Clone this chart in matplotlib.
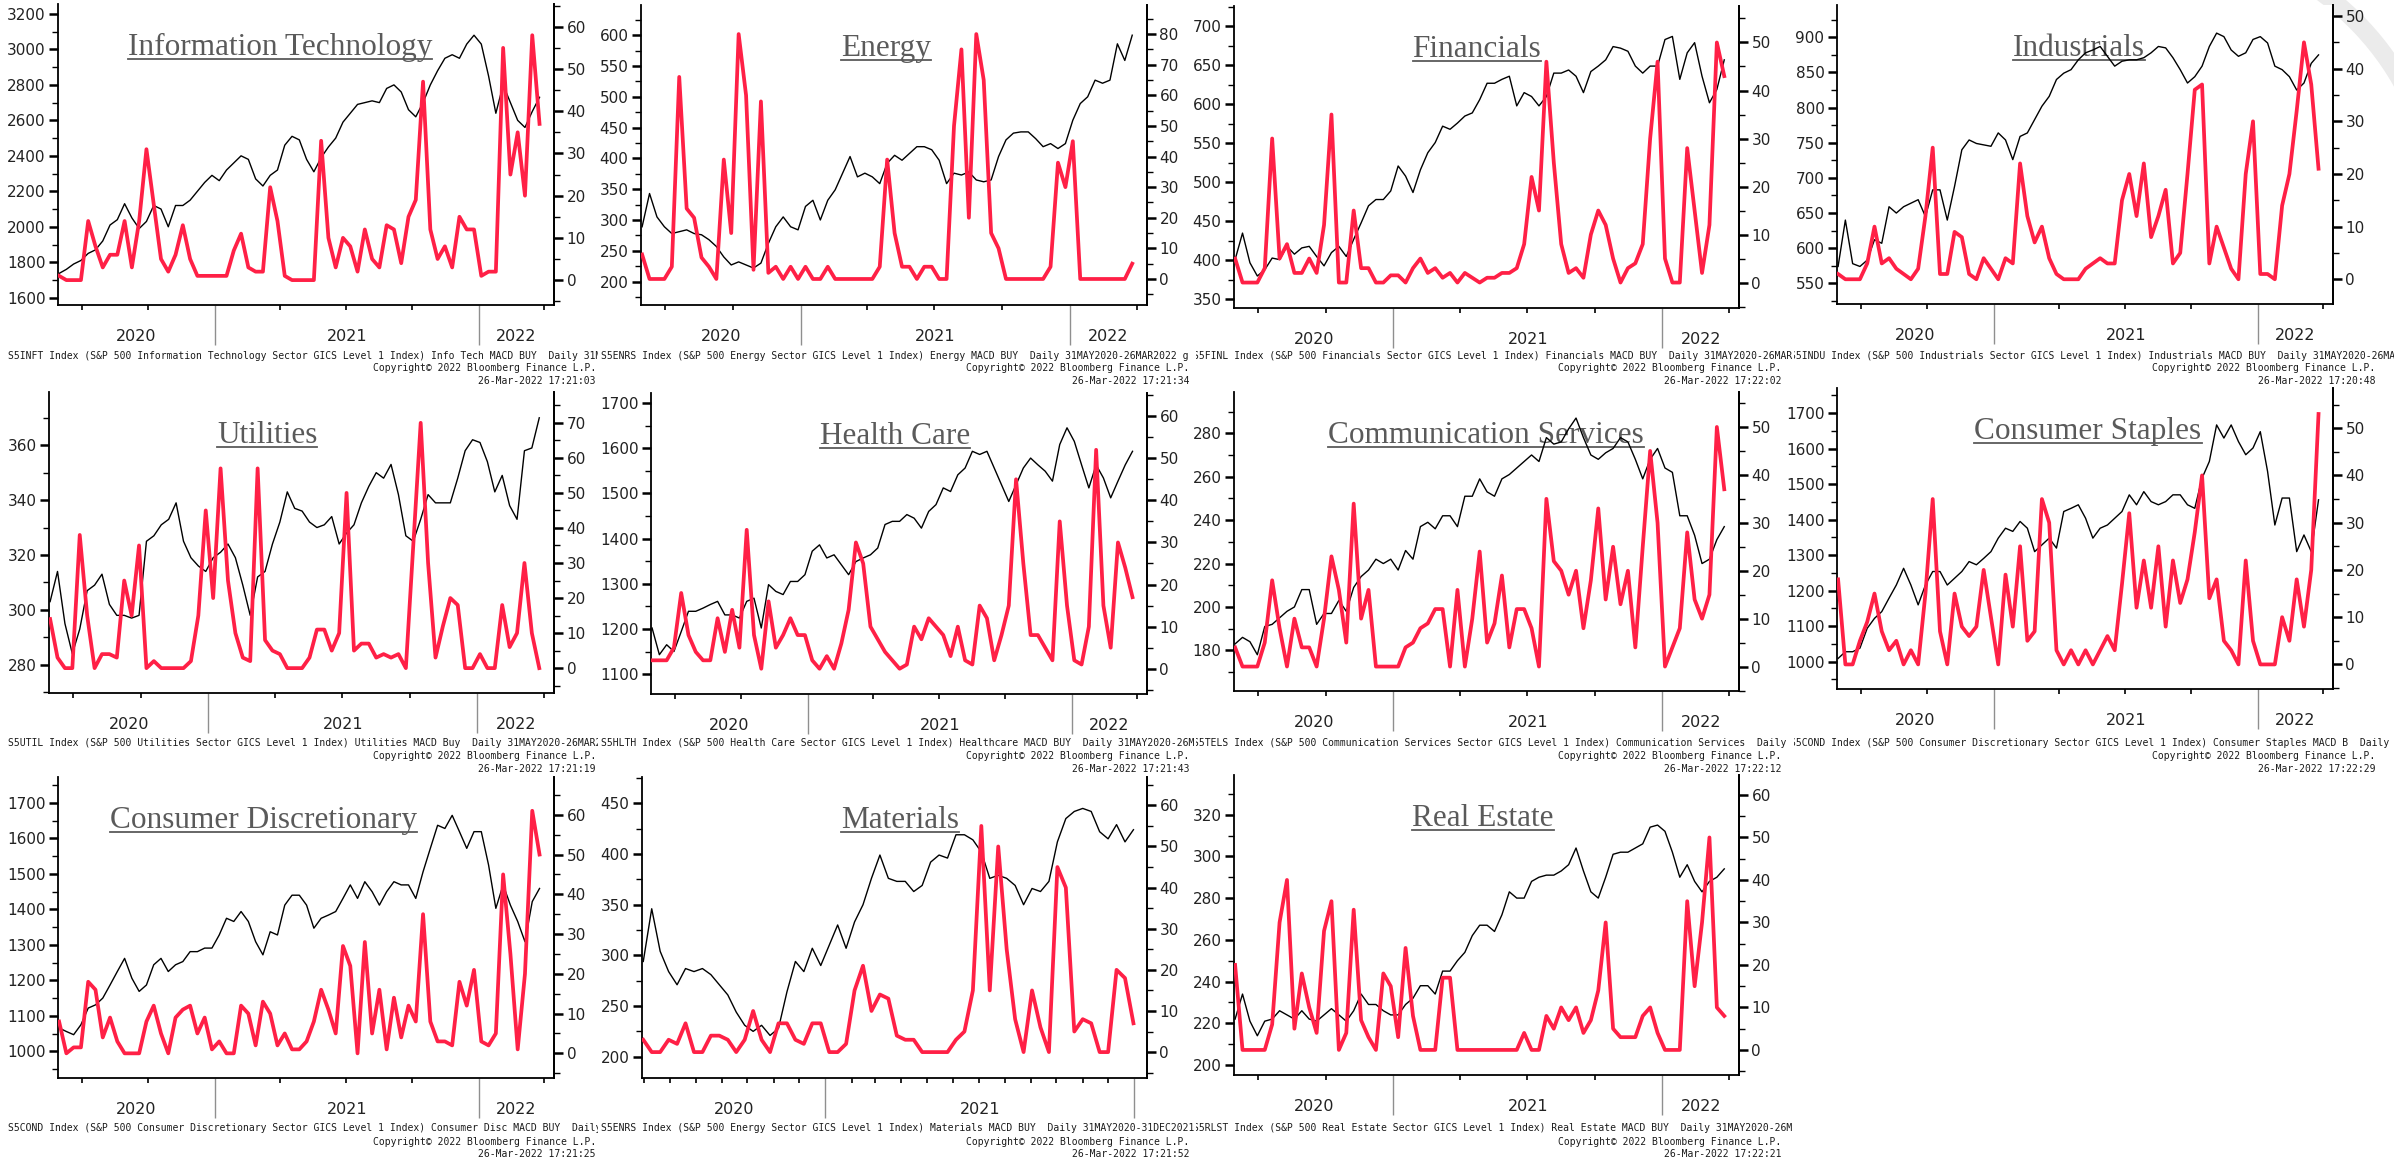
import numpy as np
import pandas as pd
import matplotlib
matplotlib.use("Agg")
import matplotlib.pyplot as plt
import matplotlib.dates as mdates
from matplotlib.ticker import MultipleLocator, NullFormatter
from matplotlib.lines import Line2D
from matplotlib.patches import Arc
from matplotlib.transforms import Bbox, TransformedBbox, IdentityTransform

W, H = 2394, 1161
START = "2020-05-31"
END = "2022-03-26"
MAT_END = "2021-12-31"
RED = "#ff2046"

# ---- data (index level, left axis / MACD buy count, right axis)
it_index = [1737, 1760, 1790, 1810, 1850, 1870, 1920, 2010, 2040, 2130, 2050, 1990, 2030, 2120, 2100,
            2000, 2120, 2120, 2150, 2200, 2250, 2290, 2260, 2320, 2360, 2400, 2380, 2270, 2230, 2290,
            2320, 2460, 2510, 2490, 2380, 2310, 2390, 2450, 2500, 2590, 2640, 2690, 2700, 2710, 2700,
            2780, 2800, 2760, 2660, 2620, 2700, 2800, 2880, 2950, 2970, 2950, 3030, 3080, 3030, 2850,
            2640, 2800, 2700, 2600, 2560, 2650, 2730]
it_macd = [1, 0, 0, 0, 14, 8, 3, 6, 6, 14, 3, 14, 31, 18, 5, 2, 6, 13, 5, 1,
           1, 1, 1, 1, 7, 11, 3, 2, 2, 22, 14, 1, 0, 0, 0, 0, 33, 10, 3, 10,
           8, 2, 12, 5, 3, 13, 12, 4, 15, 19, 47, 12, 5, 8, 3, 15, 12, 12, 1, 2,
           2, 55, 25, 35, 20, 58, 37]

energy_index = [289, 343, 305, 289, 278, 281, 284, 278, 276, 268, 257, 240, 227, 232, 227, 222, 230,
                262, 289, 305, 289, 284, 322, 332, 300, 332, 349, 376, 403, 370, 376, 370, 359, 392,
                405, 397, 408, 419, 419, 414, 397, 359, 376, 373, 378, 365, 362, 365, 403, 430, 441,
                443, 443, 432, 419, 424, 416, 424, 462, 489, 500, 527, 522, 527, 586, 559, 600]
energy_macd = [8, 0, 0, 0, 4, 66, 23, 20, 7, 4, 0, 39, 15, 80, 60, 3, 58, 2, 4, 0,
               4, 0, 4, 0, 0, 4, 0, 0, 0, 0, 0, 0, 4, 39, 15, 4, 4, 0, 4, 4,
               0, 0, 50, 75, 20, 80, 65, 15, 10, 0, 0, 0, 0, 0, 0, 4, 38, 30, 45, 0,
               0, 0, 0, 0, 0, 0, 5]

fin_index = [401, 435, 397, 380, 388, 403, 401, 418, 408, 416, 418, 405, 393, 410, 418, 405, 427,
             448, 470, 478, 478, 489, 521, 508, 487, 516, 538, 551, 572, 568, 576, 585, 589, 606,
             627, 627, 632, 636, 598, 615, 610, 598, 610, 640, 640, 644, 636, 615, 642, 649, 657,
             674, 672, 668, 649, 640, 649, 649, 683, 687, 632, 666, 679, 636, 602, 619, 657]
fin_macd = [5, 0, 0, 0, 3, 30, 5, 8, 2, 2, 5, 2, 12, 35, 0, 0, 15, 3, 3, 0,
            0, 1.5, 1.5, 0, 3, 5, 2, 3, 1, 2, 0, 2, 1, 0, 1, 1, 2, 2, 3, 8,
            22, 15, 46, 25, 8, 2, 3, 1, 10, 15, 12, 5, 0, 3, 4, 8, 30, 46, 5, 0,
            0, 28, 15, 2, 12, 50, 43]

ind_index = [574, 640, 578, 574, 583, 612, 607, 659, 650, 659, 664, 669, 645, 683, 683, 640, 688,
             740, 754, 749, 747, 745, 764, 754, 726, 759, 764, 783, 802, 816, 840, 849, 854, 868,
             878, 882, 887, 873, 859, 866, 868, 868, 871, 878, 887, 885, 871, 854, 835, 844, 859,
             887, 906, 901, 882, 873, 878, 897, 901, 892, 859, 854, 844, 825, 835, 863, 875]
ind_macd = [1, 0, 0, 0, 3, 10, 3, 4, 2, 1, 0, 2, 12, 25, 1, 1, 9, 8, 1, 0,
            4, 2, 0, 4, 3, 22, 12, 7, 10, 4, 1, 0, 0, 0, 2, 3, 4, 3, 3, 15,
            20, 12, 22, 8, 12, 17, 3, 5, 20, 36, 37, 3, 10, 6, 2, 0, 20, 30, 1, 1,
            0, 14, 20, 32, 45, 37, 21]

util_index = [303, 314, 295, 284, 293, 307, 309, 313, 302, 298, 298, 297, 298, 325, 327, 331, 333,
              339, 325, 319, 316, 314, 319, 321, 324, 319, 309, 298, 312, 314, 324, 332, 343, 337,
              336, 332, 330, 331, 334, 324, 328, 331, 339, 345, 350, 348, 353, 342, 327, 325, 333,
              342, 339, 339, 339, 348, 358, 362, 361, 354, 343, 349, 338, 333, 358, 359, 370]
util_macd = [14, 3, 0, 0, 38, 15, 0, 4, 4, 3, 25, 15, 35, 0, 2, 0, 0, 0, 0, 2,
             15, 45, 20, 57, 25, 10, 3, 2, 57, 8, 5, 4, 0, 0, 0, 3, 11, 11, 5, 10,
             50, 5, 7, 7, 3, 4, 3, 4, 0, 35, 70, 30, 3, 12, 20, 18, 0, 0, 4, 0,
             0, 18, 6, 10, 30, 10, 0]

hc_index = [1202, 1143, 1165, 1150, 1194, 1239, 1239, 1246, 1254, 1261, 1231, 1231, 1224, 1261,
            1268, 1202, 1298, 1283, 1276, 1305, 1305, 1320, 1372, 1386, 1357, 1364, 1342, 1320,
            1349, 1357, 1364, 1379, 1431, 1438, 1438, 1453, 1445, 1423, 1460, 1475, 1512, 1504,
            1541, 1556, 1593, 1586, 1593, 1556, 1519, 1482, 1519, 1556, 1578, 1563, 1549, 1527,
            1608, 1645, 1615, 1563, 1512, 1563, 1534, 1490, 1527, 1563, 1593]
hc_macd = [2, 2, 2, 5, 18, 8, 4, 2, 2, 12, 4, 14, 5, 33, 8, 0, 16, 5, 8, 12,
           8, 8, 2, 0, 3, 0, 6, 14, 30, 25, 10, 7, 4, 2, 0, 1, 10, 7, 12, 10,
           8, 3, 10, 2, 1, 15, 12, 2, 8, 15, 45, 25, 8, 8, 5, 2, 35, 15, 2, 1,
           10, 52, 15, 5, 30, 24, 17]

comm_index = [183, 186, 184, 178, 191, 192, 195, 198, 200, 208, 208, 192, 197, 197, 203, 198, 209,
              214, 217, 222, 220, 222, 217, 226, 222, 237, 239, 236, 242, 242, 237, 251, 251, 259,
              253, 251, 259, 261, 264, 267, 270, 267, 278, 275, 276, 282, 287, 278, 270, 268, 271,
              273, 278, 276, 268, 259, 268, 273, 264, 262, 242, 242, 233, 220, 222, 231, 237]
comm_macd = [4, 0, 0, 0, 5, 18, 8, 0, 10, 4, 4, 0, 10, 23, 16, 5, 34, 10, 16, 0,
             0, 0, 0, 4, 5, 8, 9, 12, 12, 0, 16, 0, 10, 24, 5, 9, 19, 4, 12, 12,
             8, 0, 35, 22, 20, 15, 20, 8, 18, 33, 14, 25, 13, 20, 4, 25, 45, 30, 0, 4,
             8, 28, 14, 10, 15, 50, 37]

stap_index = [1009, 1028, 1028, 1038, 1094, 1122, 1141, 1179, 1216, 1263, 1216, 1160, 1216, 1254,
              1254, 1216, 1235, 1254, 1282, 1273, 1291, 1310, 1348, 1376, 1367, 1395, 1376, 1310,
              1329, 1348, 1320, 1423, 1432, 1442, 1404, 1348, 1376, 1385, 1404, 1423, 1470, 1442,
              1479, 1451, 1442, 1451, 1470, 1470, 1442, 1432, 1517, 1564, 1667, 1630, 1667, 1620,
              1583, 1602, 1648, 1536, 1385, 1461, 1461, 1310, 1357, 1310, 1456]
stap_macd = [18, 0, 0, 5, 9, 15, 7, 3, 5, 0, 3, 0, 15, 35, 7, 0, 15, 8, 6, 8,
             20, 10, 0, 19, 8, 25, 5, 7, 35, 30, 3, 0, 3, 0, 3, 0, 3, 6, 3, 17,
             32, 12, 22, 12, 25, 8, 22, 13, 18, 28, 40, 14, 18, 5, 3, 0, 22, 5, 0, 0,
             0, 10, 5, 18, 8, 20, 53]

disc_index = [1066, 1056, 1047, 1075, 1122, 1131, 1150, 1187, 1225, 1262, 1206, 1169, 1187, 1244,
              1262, 1225, 1244, 1253, 1281, 1281, 1291, 1291, 1328, 1375, 1366, 1394, 1366, 1309,
              1272, 1337, 1328, 1412, 1440, 1440, 1412, 1347, 1375, 1384, 1394, 1431, 1469, 1431,
              1478, 1450, 1412, 1450, 1478, 1469, 1469, 1431, 1506, 1572, 1637, 1628, 1665, 1619,
              1572, 1619, 1619, 1525, 1403, 1469, 1412, 1366, 1309, 1422, 1459]
disc_macd = [8, 0, 1.5, 1.5, 18, 16, 4, 9, 3, 0, 0, 0, 8, 12, 5, 0, 9, 11, 12, 5,
             9, 1, 3, 0, 0, 12, 10, 2, 13, 10, 2, 5, 1, 1, 3, 8, 16, 11, 5, 27,
             22, 0, 28, 5, 16, 1, 14, 4, 12, 8, 35, 8, 3, 3, 2, 18, 12, 21, 3, 2,
             5, 45, 25, 1, 20, 61, 50]

mat_index = [294, 346, 304, 284, 271, 287, 284, 287, 281, 271, 261, 244, 231, 225, 231, 221, 228,
             264, 294, 284, 307, 290, 310, 330, 307, 333, 350, 376, 399, 376, 373, 373, 363, 369,
             392, 399, 396, 419, 419, 414, 402, 376, 379, 376, 369, 350, 366, 363, 373, 412, 435,
             442, 445, 442, 422, 415, 429, 412, 424]
mat_macd = [3, 0, 0, 3, 2, 7, 0, 0, 4, 4, 3, 0, 3, 10, 3, 0, 7, 7, 3, 2,
            7, 7, 0, 0, 2, 15, 21, 10, 14, 13, 4, 3, 3, 0, 0, 0, 0, 3, 5, 15,
            55, 15, 50, 25, 8, 0, 15, 6, 0, 45, 40, 5, 8, 7, 0, 0, 20, 18, 7]

re_index = [222, 234, 221, 214, 221, 222, 226, 224, 222, 226, 222, 221, 224, 227, 224, 221, 226,
            234, 229, 229, 226, 224, 224, 229, 232, 238, 238, 234, 245, 245, 250, 254, 262, 267,
            267, 264, 272, 283, 280, 280, 288, 290, 291, 291, 293, 296, 304, 293, 283, 280, 290,
            301, 302, 302, 304, 306, 314, 315, 312, 302, 290, 296, 288, 283, 288, 290, 294]
re_macd = [20, 0, 0, 0, 0, 6, 30, 40, 5, 18, 10, 4, 28, 35, 0, 4, 33, 7, 3, 0,
           18, 15, 3, 24, 8, 0, 0, 0, 17, 17, 0, 0, 0, 0, 0, 0, 0, 0, 0, 4,
           0, 0, 8, 5, 10, 7, 10, 4, 7, 14, 30, 5, 3, 3, 3, 8, 10, 4, 0, 0,
           0, 35, 15, 30, 50, 10, 8]

titles = ["Information Technology", "Energy", "Financials", "Industrials",
          "Utilities", "Health Care", "Communication Services", "Consumer Staples",
          "Consumer Discretionary", "Materials", "Real Estate"]
index_series = [it_index, energy_index, fin_index, ind_index, util_index, hc_index,
                comm_index, stap_index, disc_index, mat_index, re_index]
macd_series = [it_macd, energy_macd, fin_macd, ind_macd, util_macd, hc_macd,
               comm_macd, stap_macd, disc_macd, mat_macd, re_macd]
end_dates = [END] * 9 + [MAT_END, END]
left_limits = [(1559, 3256), (162, 649), (339, 726), (520.6, 946), (269.7, 379.4), (1056, 1722),
               (161.3, 299), (923, 1771), (925, 1773), (179, 476), (195.2, 339)]
left_steps = [200, 50, 50, 50, 20, 100, 20, 100, 100, 50, 20]
right_limits = [(-5.9, 65.4), (-8.5, 89.5), (-5.3, 57.6), (-4.7, 52.1), (-7.1, 78.8), (-6.0, 65.5),
                (-5.1, 57.3), (-5.2, 58.5), (-6.2, 69.5), (-6.3, 66.9), (-5.9, 64.7)]
footnotes = [
    "S5INFT Index (S&P 500 Information Technology Sector GICS Level 1 Index) Info Tech MACD BUY  Daily 31MAY2020-26MAR2022",
    "S5ENRS Index (S&P 500 Energy Sector GICS Level 1 Index) Energy MACD BUY  Daily 31MAY2020-26MAR2022 g",
    "S5FINL Index (S&P 500 Financials Sector GICS Level 1 Index) Financials MACD BUY  Daily 31MAY2020-26MAR2022",
    "S5INDU Index (S&P 500 Industrials Sector GICS Level 1 Index) Industrials MACD BUY  Daily 31MAY2020-26MAR2022",
    "S5UTIL Index (S&P 500 Utilities Sector GICS Level 1 Index) Utilities MACD Buy  Daily 31MAY2020-26MAR2022",
    "S5HLTH Index (S&P 500 Health Care Sector GICS Level 1 Index) Healthcare MACD BUY  Daily 31MAY2020-26MAR2022",
    "S5TELS Index (S&P 500 Communication Services Sector GICS Level 1 Index) Communication Services  Daily 31MAY2020-26MAR2022",
    "S5COND Index (S&P 500 Consumer Discretionary Sector GICS Level 1 Index) Consumer Staples MACD B  Daily 31MAY2020-26MAR2022",
    "S5COND Index (S&P 500 Consumer Discretionary Sector GICS Level 1 Index) Consumer Disc MACD BUY  Daily 31MAY2020-26MAR2022",
    "S5ENRS Index (S&P 500 Energy Sector GICS Level 1 Index) Materials MACD BUY  Daily 31MAY2020-31DEC2021",
    "S5RLST Index (S&P 500 Real Estate Sector GICS Level 1 Index) Real Estate MACD BUY  Daily 31MAY2020-26MAR2022",
]
stamps = ["17:21:03", "17:21:34", "17:22:02", "17:20:48", "17:21:19", "17:21:43",
          "17:22:12", "17:22:29", "17:21:25", "17:21:52", "17:22:21"]

# ---- layout (pixels): left, right, top, bottom of each plot frame
rects = [(58, 554, 4, 305), (641, 1147, 5, 305), (1234, 1739, 6, 308), (1837, 2333, 5, 304),
         (49, 554, 392, 693), (651, 1147, 393, 694), (1234, 1739, 392, 691), (1837, 2333, 388, 689),
         (58, 554, 777, 1078), (642, 1147, 777, 1078), (1234, 1739, 775, 1075)]
title_x = [0.448, 0.484, 0.481, 0.488, 0.432, 0.492, 0.499, 0.506, 0.415, 0.511, 0.493]
cell_left = [0, 598, 1196, 1794, 2394]
text_x = [8, 601, 1193, 1790, 2394]
copy_right = [596, 1189, 1781, 2375]
foot_y = [[356, 368, 381], [743, 756, 769], [1128, 1142, 1154]]
CHAR_W = 5.85  # advance of the 7 pt mono font in pixels

fig = plt.figure(figsize=(W / 100, H / 100), dpi=100)
fig.patch.set_facecolor("white")

# faint watermark ring in the top-right corner
fig.add_artist(Arc((2157, 941), 562, 562, theta1=25, theta2=62, transform=IdentityTransform(),
                   lw=13, color="#ebebeb", zorder=0))

title_artists = []
for k in range(11):
    row, col = divmod(k, 4)
    l, r, t, b = rects[k]
    ax = fig.add_axes([l / W, 1 - b / H, (r - l) / W, (b - t) / H])
    ax2 = ax.twinx()

    end = end_dates[k]
    d_idx = pd.date_range(START, end, periods=len(index_series[k]))
    d_macd = pd.date_range(START, end, periods=len(macd_series[k]))
    ax.plot(d_idx, index_series[k], color="black", lw=1.0, zorder=3)
    ax2.plot(d_macd, macd_series[k], color=RED, lw=2.7, solid_joinstyle="round", zorder=3)

    pad = 16 if end == MAT_END else 20
    ax.set_xlim(pd.Timestamp(START) - pd.Timedelta(days=1.5), pd.Timestamp(end) + pd.Timedelta(days=pad))
    ax.set_ylim(*left_limits[k])
    ax2.set_ylim(*right_limits[k])

    for a in (ax, ax2):
        a.spines["top"].set_visible(False)
        for s in a.spines.values():
            s.set_linewidth(1.3)
    ax2.spines["left"].set_visible(False)
    ax2.spines["bottom"].set_visible(False)

    ax.yaxis.set_major_locator(MultipleLocator(left_steps[k]))
    ax.yaxis.set_minor_locator(MultipleLocator(left_steps[k] / 2))
    ax2.yaxis.set_major_locator(MultipleLocator(10))
    ax2.yaxis.set_minor_locator(MultipleLocator(5))
    for a in (ax, ax2):
        a.tick_params(axis="y", which="major", direction="out", length=6.5, width=1.8,
                      labelsize=11, labelcolor="#222222", pad=2.5)
        a.tick_params(axis="y", which="minor", direction="out", length=4, width=1)

    ax.xaxis.set_major_locator(mdates.YearLocator())
    ax.xaxis.set_major_formatter(NullFormatter())
    if end == MAT_END:
        ax.xaxis.set_minor_locator(mdates.MonthLocator(bymonth=range(2, 13)))
    else:
        ax.xaxis.set_minor_locator(mdates.MonthLocator(bymonth=[4, 7, 10]))
    ax.xaxis.set_minor_formatter(NullFormatter())
    ax.tick_params(axis="x", which="major", direction="out", length=29, width=1, color="#8f8f8f")
    ax.tick_params(axis="x", which="minor", direction="out", length=3.5, width=1.2, color="black")

    lo, hi = ax.get_xlim()
    for y in (2020, 2021, 2022):
        a0 = max(lo, mdates.date2num(pd.Timestamp(f"{y}-01-01")))
        a1 = min(hi, mdates.date2num(pd.Timestamp(f"{y + 1}-01-01")))
        if a1 - a0 > 40:
            ax.annotate(str(y), xy=((a0 + a1) / 2, 0), xycoords=("data", "axes fraction"),
                        xytext=(0, -23), textcoords="offset points", ha="center", va="center",
                        fontsize=11.5, color="#222222", annotation_clip=False)

    tt = ax.text(title_x[k], 0.83, titles[k], transform=ax.transAxes, ha="center", va="baseline",
                 fontsize=22.5, family="Liberation Serif", color="#5a5a5a", zorder=1)
    title_artists.append((ax, tt))

    # Bloomberg footer; the first line runs into the next chart, so keep only what fits
    y1, y2, y3 = foot_y[row]
    n_fit = int((text_x[col + 1] - text_x[col]) / CHAR_W)
    f1 = fig.text(text_x[col] / W, 1 - y1 / H, footnotes[k][:n_fit], ha="left", va="center",
                  family="DejaVu Sans Mono", fontsize=7, color="#1a1a1a")
    f1.set_clip_box(TransformedBbox(Bbox([[cell_left[col] / W, 0], [cell_left[col + 1] / W, 1]]),
                                    fig.transFigure))
    f1.set_clip_on(True)
    fig.text(copy_right[col] / W, 1 - y2 / H, "Copyright\u00a9 2022 Bloomberg Finance L.P.",
             ha="right", va="center", family="DejaVu Sans Mono", fontsize=7, color="#1a1a1a")
    fig.text(copy_right[col] / W, 1 - y3 / H, "26-Mar-2022 " + stamps[k],
             ha="right", va="center", family="DejaVu Sans Mono", fontsize=7, color="#1a1a1a")

# underline the titles
fig.canvas.draw()
renderer = fig.canvas.get_renderer()
for ax, tt in title_artists:
    bb = tt.get_window_extent(renderer)
    _, yb = tt.get_transform().transform(tt.get_position())
    ax.add_line(Line2D([bb.x0, bb.x1], [yb - 4, yb - 4], transform=IdentityTransform(),
                       color="#5a5a5a", lw=1.3, zorder=1))

fig.savefig("out.png", dpi=100)
